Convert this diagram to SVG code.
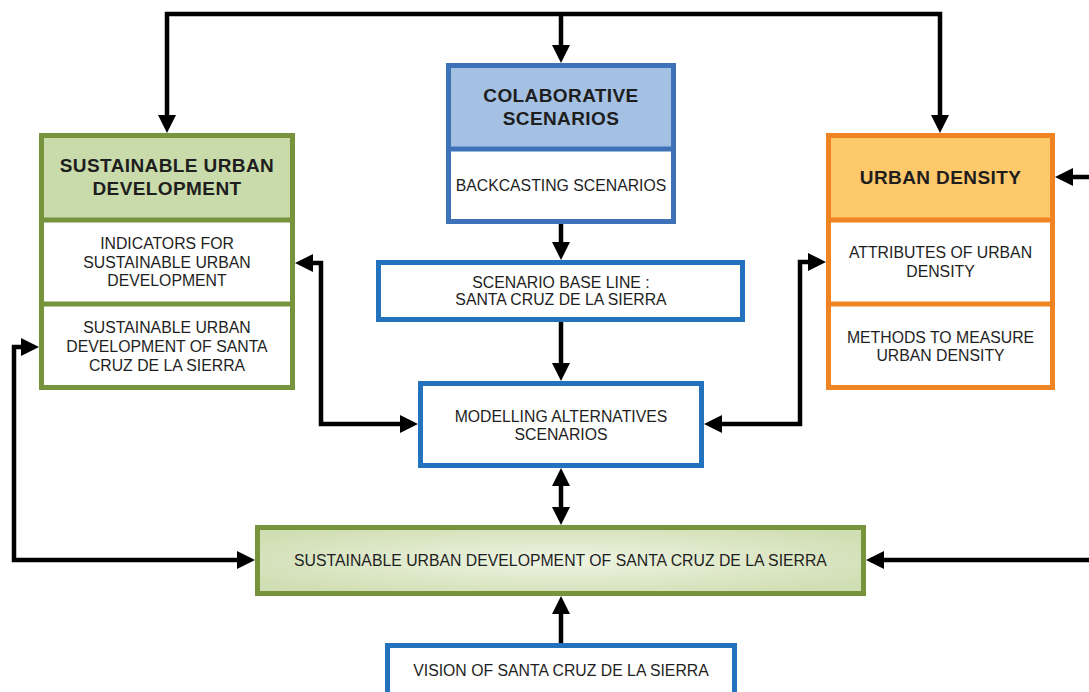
<svg xmlns="http://www.w3.org/2000/svg" width="1089" height="692" viewBox="0 0 1089 692">
<style>
text{font-family:"Liberation Sans",Arial,sans-serif;fill:#1e1e1e;text-anchor:middle}
.t{font-weight:bold;font-size:19px;letter-spacing:0.4px}
.b{font-size:15.8px}
.g{stroke:#77933c;stroke-width:5}
.cb{stroke:#3e72b8;stroke-width:5}
.bl{stroke:#2272be;stroke-width:5}
.o{stroke:#f08423;stroke-width:5}
.c{fill:none;stroke:#000;stroke-width:4.5;stroke-linejoin:miter}
.a{marker-end:url(#ah)}
.aa{marker-start:url(#ah);marker-end:url(#ah)}
</style>
<defs>
<marker id="ah" viewBox="0 0 18 18" refX="13" refY="9" markerWidth="18" markerHeight="18" markerUnits="userSpaceOnUse" orient="auto-start-reverse">
<path d="M0,0 L18,9 L0,18 Z" fill="#000"/>
</marker>
<radialGradient id="gg" cx="50%" cy="50%" r="60%">
<stop offset="0" stop-color="#eef4e3"/>
<stop offset="1" stop-color="#d0deb3"/>
</radialGradient>
</defs>
<rect width="1089" height="692" fill="#fff"/>

<g id="connectors">
<path class="c aa" d="M167,128 V14 H940 V128"/>
<path class="c a" d="M561,14 V58"/>
<path class="c a" d="M561,224 V255"/>
<path class="c a" d="M561,322 V376"/>
<path class="c aa" d="M561,473 V520"/>
<path class="c a" d="M561,645 V601"/>
<path class="c aa" d="M300,263 H321 V424 H413"/>
<path class="c aa" d="M821,262 H800 V424 H709"/>
<path class="c aa" d="M34,347 H14 V560 H250"/>
<path class="c a" d="M1092,177 H1060"/>
<path class="c a" d="M1092,560 H871"/>
</g>

<g id="sustainable-urban-development">
<rect x="41.5" y="135.5" width="251" height="252" fill="#fff" class="g"/>
<rect x="41.5" y="135.5" width="251" height="84.5" fill="#c9dbaa" class="g"/>
<line x1="41.5" y1="304" x2="292.5" y2="304" class="g"/>
<text class="t" x="167" y="172">SUSTAINABLE URBAN</text>
<text class="t" x="167" y="195">DEVELOPMENT</text>
<text class="b" x="167" y="249">INDICATORS FOR</text>
<text class="b" x="167" y="268">SUSTAINABLE URBAN</text>
<text class="b" x="167" y="286">DEVELOPMENT</text>
<text class="b" x="167" y="333">SUSTAINABLE URBAN</text>
<text class="b" x="167" y="352">DEVELOPMENT OF SANTA</text>
<text class="b" x="167" y="371">CRUZ DE LA SIERRA</text>
</g>

<g id="colaborative-scenarios">
<rect x="448.5" y="65.5" width="225" height="156" fill="#fff" class="cb"/>
<rect x="448.5" y="65.5" width="225" height="83.5" fill="#a4c1e4" class="cb"/>
<text class="t" x="561" y="102">COLABORATIVE</text>
<text class="t" x="561" y="125">SCENARIOS</text>
<text class="b" x="561" y="191">BACKCASTING SCENARIOS</text>
</g>

<g id="scenario-base-line">
<rect x="378.5" y="262.5" width="364" height="57" fill="#fff" class="bl"/>
<text class="b" x="561" y="288">SCENARIO BASE LINE :</text>
<text class="b" x="561" y="305">SANTA CRUZ DE LA SIERRA</text>
</g>

<g id="modelling-alternatives">
<rect x="420.5" y="383.5" width="281" height="82" fill="#fff" class="bl"/>
<text class="b" x="561" y="422">MODELLING ALTERNATIVES</text>
<text class="b" x="561" y="440">SCENARIOS</text>
</g>

<g id="urban-density">
<rect x="828.5" y="135.5" width="224" height="252" fill="#fff" class="o"/>
<rect x="828.5" y="135.5" width="224" height="84.5" fill="#fdc96b" class="o"/>
<line x1="828.5" y1="304" x2="1052.5" y2="304" class="o"/>
<text class="t" x="940.5" y="184">URBAN DENSITY</text>
<text class="b" x="940.5" y="258">ATTRIBUTES OF URBAN</text>
<text class="b" x="940.5" y="277">DENSITY</text>
<text class="b" x="940.5" y="343">METHODS TO MEASURE</text>
<text class="b" x="940.5" y="361">URBAN DENSITY</text>
</g>

<g id="sustainable-development-scs">
<rect x="257.5" y="527.5" width="606" height="66" fill="url(#gg)" class="g"/>
<text class="b" x="560.5" y="566">SUSTAINABLE URBAN DEVELOPMENT OF SANTA CRUZ DE LA SIERRA</text>
</g>

<g id="vision">
<rect x="387.5" y="645.5" width="347" height="60" fill="#fff" class="bl"/>
<text class="b" x="561" y="676">VISION OF SANTA CRUZ DE LA SIERRA</text>
</g>
</svg>
